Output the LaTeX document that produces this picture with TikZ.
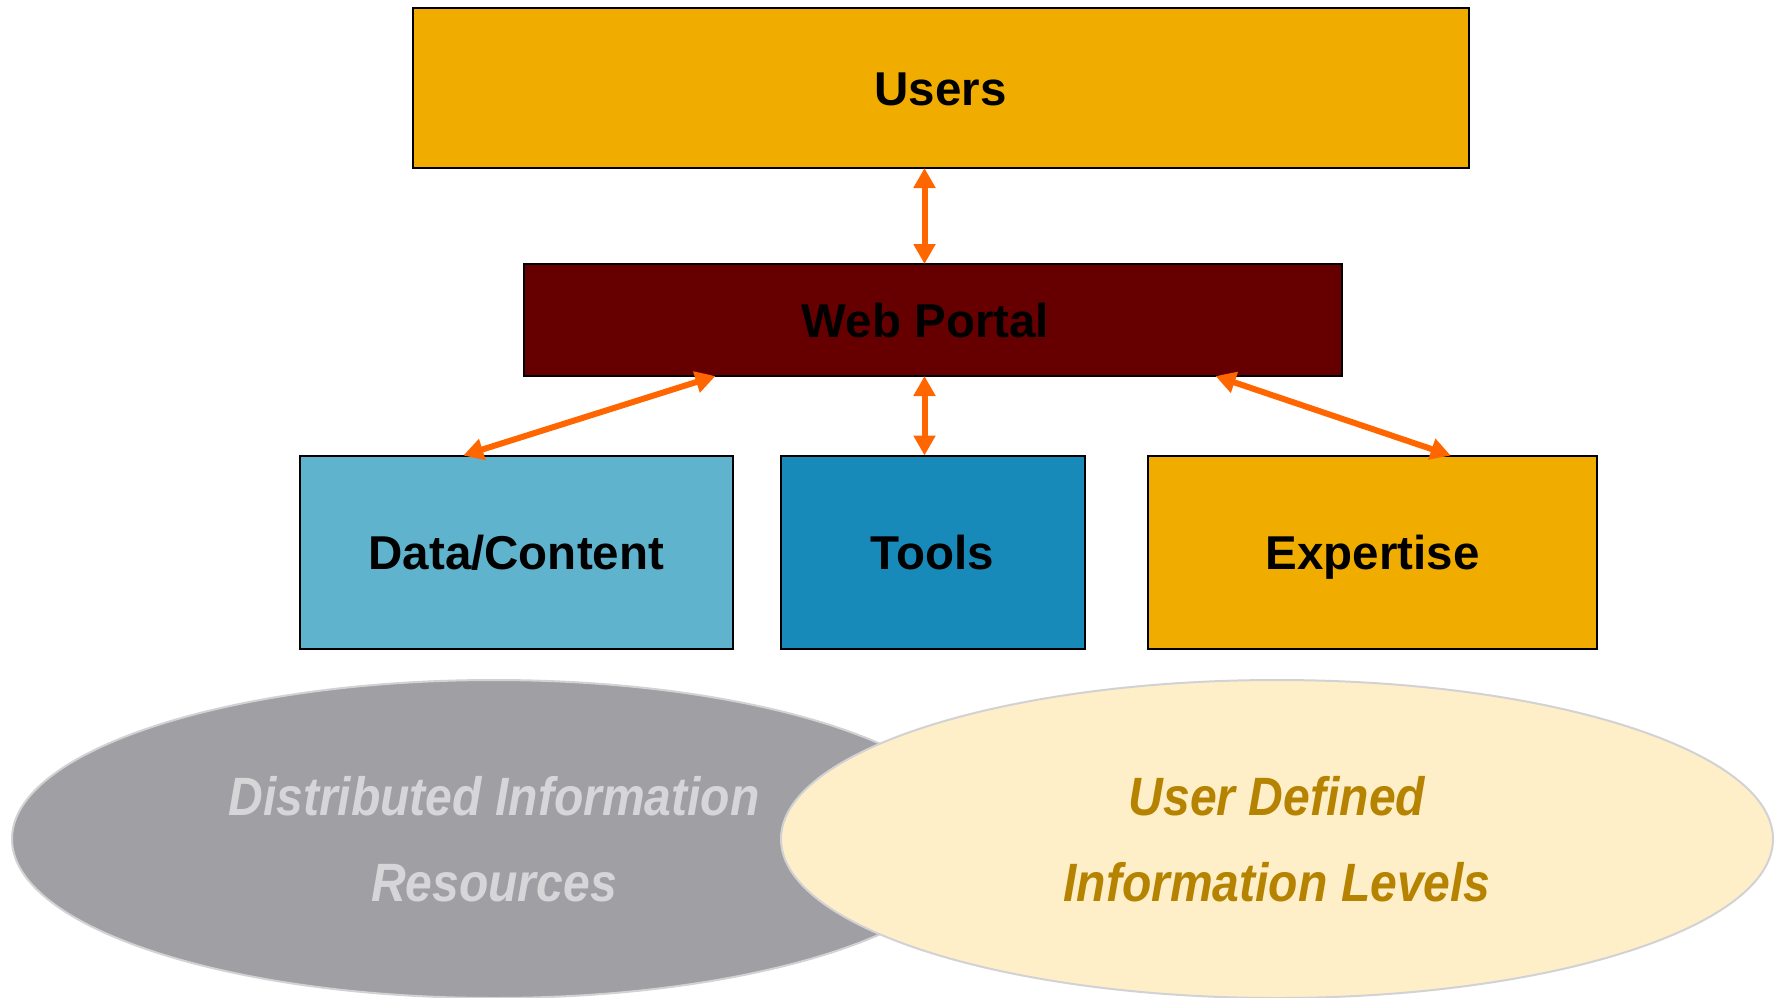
\documentclass[tikz,border=0pt]{standalone}
\usepackage{fontspec}
\setmainfont{Liberation Sans}
\newfontfamily\ellfont[FakeStretch=0.89]{Liberation Sans}
\usetikzlibrary{shapes.geometric,arrows.meta}
\definecolor{gold}{HTML}{F0AD00}
\definecolor{portalred}{HTML}{660000}
\definecolor{lightblue}{HTML}{5FB3CC}
\definecolor{midblue}{HTML}{188ABA}
\definecolor{arroworange}{HTML}{FF6600}
\definecolor{ellgray}{HTML}{A09FA4}
\definecolor{ellcream}{HTML}{FFEFC9}
\definecolor{ellborder}{HTML}{D2D2D4}
\definecolor{graytext}{HTML}{D6D6D8}
\definecolor{goldtext}{HTML}{B58300}
\tikzset{
  box/.style={draw=black, line width=2pt, rectangle, inner sep=0pt, outer sep=0pt,
    text height=34pt, text depth=0pt,
    font=\fontsize{47.5}{50}\selectfont\bfseries},
  ell/.style={ellipse, draw=ellborder, line width=2pt, inner sep=0pt, outer sep=0pt,
    align=center, font=\ellfont\fontsize{54}{86}\selectfont\bfseries\itshape},
  link/.style={draw=arroworange, line width=6pt,
    {Triangle[length=20pt,width=21pt]}-{Triangle[length=20pt,width=21pt]}}
}
\begin{document}
\begin{tikzpicture}[x=1pt,y=-1pt]
\useasboundingbox (0,0) rectangle (1781,997);
\fill[white] (0,0) rectangle (1781,997);
% ellipses
\node[ell, fill=ellgray, text=graytext, minimum width=964, minimum height=318] (dist) at (494,839) {Distributed Information\\Resources};
\node[ell, fill=ellcream, text=goldtext, minimum width=992, minimum height=318] (udef) at (1277,839) {User Defined\\Information Levels};
% boxes
\node[box, fill=gold, minimum width=1056, minimum height=160] (users) at (940.5,88) {Users};
\node[box, fill=portalred, minimum width=818, minimum height=112] (portal) at (932.5,320) {\hspace*{-14pt}Web Portal};
\node[box, fill=lightblue, minimum width=433, minimum height=193] (data) at (516.3,552) {Data/Content};
\node[box, fill=midblue, minimum width=304, minimum height=193] (tools) at (932.5,552) {Tools};
\node[box, fill=gold, minimum width=449, minimum height=193] (expert) at (1372.7,552) {Expertise};
% connectors
\draw[link] ([xshift=-16pt]users.south) -- ([xshift=-8pt]portal.north);
\draw[link] ([xshift=-53pt]data.north) -- ([xshift=-217pt]portal.south);
\draw[link] ([xshift=-8pt]tools.north) -- ([xshift=-8pt]portal.south);
\draw[link] ([xshift=78pt]expert.north) -- ([xshift=283pt]portal.south);
\end{tikzpicture}
\end{document}
